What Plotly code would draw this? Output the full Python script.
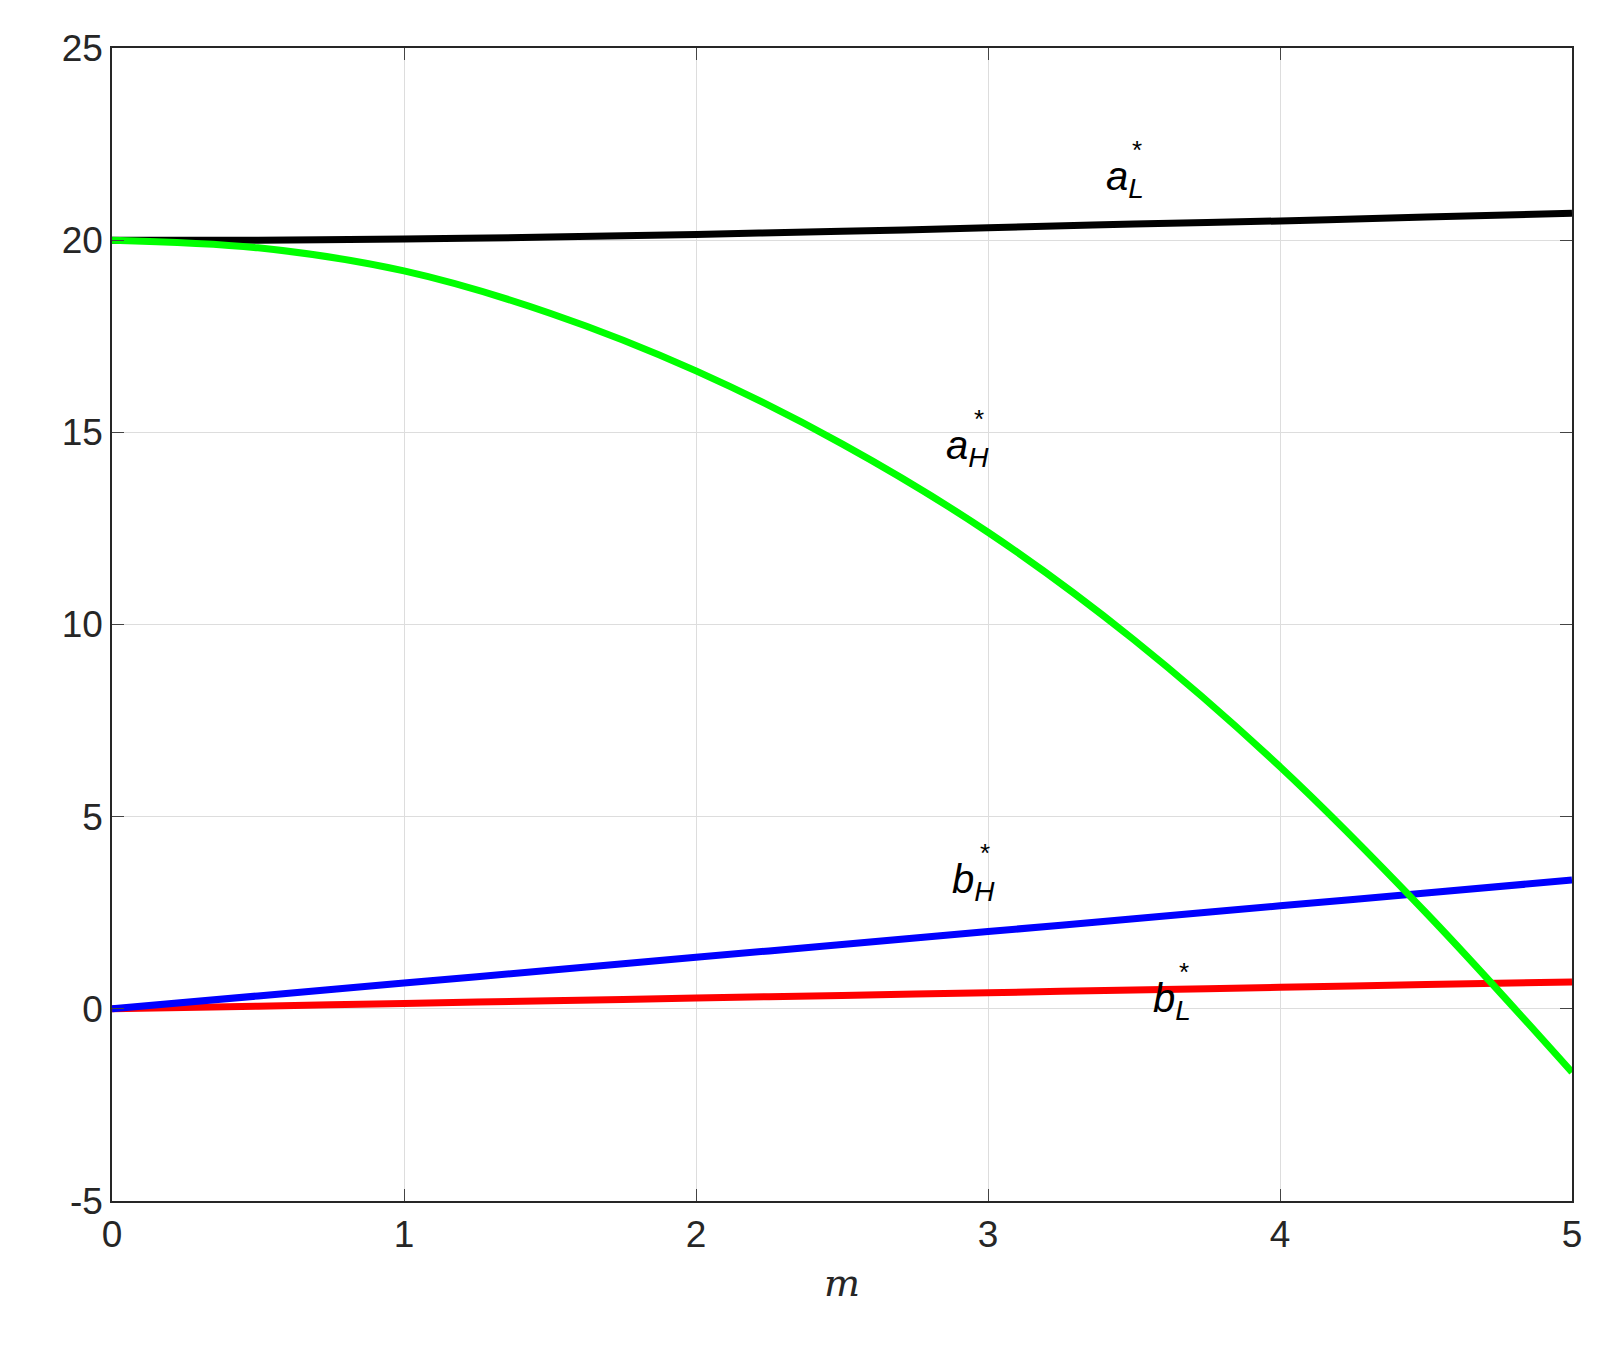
import plotly.graph_objects as go

m = [0, 0.5, 1, 1.5, 2, 2.5, 3, 3.5, 4, 4.5, 5]
a_L = [20, 20.0, 20.03, 20.08, 20.15, 20.23, 20.32, 20.42, 20.5, 20.6, 20.7]
a_H = [20, 19.8, 19.2, 18.1, 16.6, 14.7, 12.4, 9.6, 6.3, 2.5, -1.65]
b_H = [0, 0.335, 0.67, 1.005, 1.34, 1.675, 2.01, 2.345, 2.68, 3.015, 3.35]
b_L = [0, 0.07, 0.14, 0.21, 0.28, 0.35, 0.42, 0.49, 0.56, 0.63, 0.7]
y_ticks = [-5, 0, 5, 10, 15, 20, 25]
y_labels = ["-5", "0", "5", "10", "15", "20", "25"]

fig = go.Figure()
for y, c in [(a_L, "black"), (b_L, "red"), (b_H, "blue"), (a_H, "#00ff00")]:
    fig.add_trace(go.Scatter(x=m, y=y, mode="lines", line=dict(color=c, width=7, shape="spline"),
                             showlegend=False))

labels = [("a", "L", 3.47, 21.6), ("a", "H", 2.93, 14.6), ("b", "H", 2.95, 3.3), ("b", "L", 3.63, 0.2)]
for base, sub, x, y in labels:
    fig.add_annotation(x=x, y=y, text=f"<i>{base}</i><sub><i>{sub}</i></sub>", showarrow=False,
                       font=dict(size=40, color="black", family="Liberation Sans"), xanchor="center", yanchor="middle")
    fig.add_annotation(x=x + 0.04, y=y + 0.75, text="*", showarrow=False,
                       font=dict(size=26, color="black", family="Liberation Sans"))

fig.update_layout(
    width=1606, height=1362, paper_bgcolor="white", plot_bgcolor="white",
    margin=dict(l=104, r=42, t=40, b=169),
    font=dict(family="Liberation Sans", size=37, color="#262626"),
)
ax = dict(showline=True, linecolor="#262626", linewidth=1.5, mirror="ticks", ticks="inside",
          ticklen=12, showgrid=True, gridcolor="#dddddd", zeroline=False)
fig.update_xaxes(range=[0, 5], dtick=1, title=dict(text="<i>m</i>", font=dict(family="DejaVu Serif", size=38)), **ax)
fig.update_yaxes(range=[-5, 25], tickvals=y_ticks, ticktext=y_labels, **ax)
fig.write_html("out.html")
